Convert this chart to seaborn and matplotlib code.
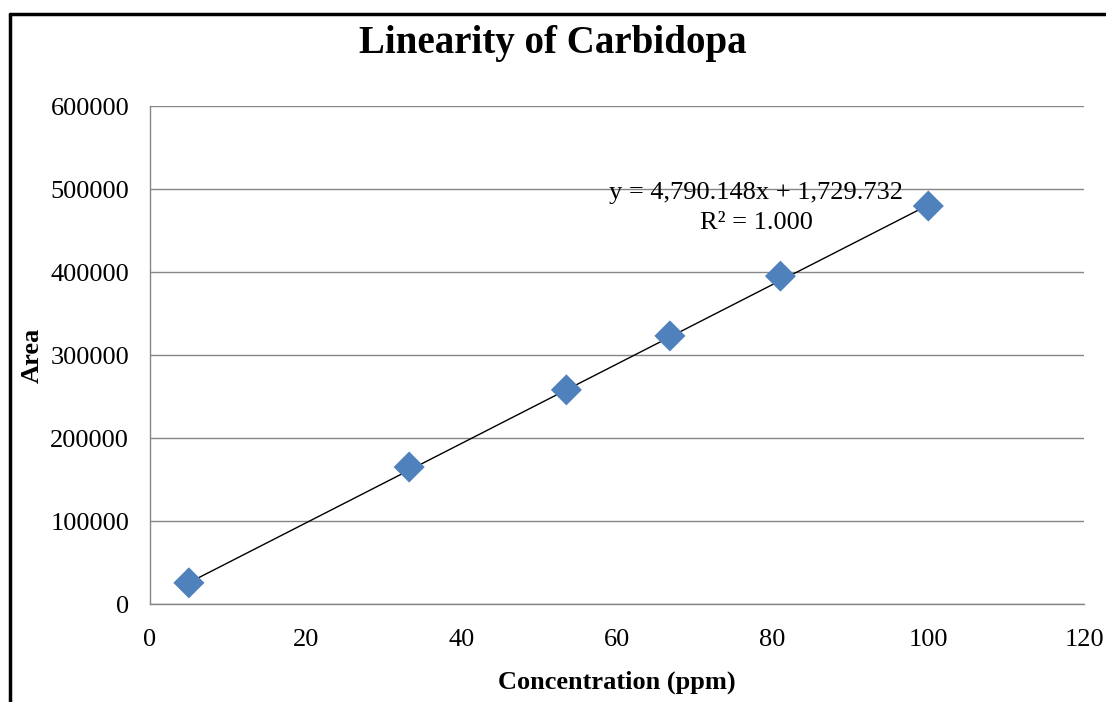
import numpy as np
import pandas as pd
import matplotlib
matplotlib.use("Agg")
import matplotlib.pyplot as plt
import seaborn as sns
from matplotlib.lines import Line2D

conc = [5.0, 33.3, 53.5, 66.8, 81.0, 100.0]
area = [25500, 165000, 258000, 323000, 395000, 479500]
slope = 4790.148
intercept = 1729.732
r2 = 1.000
xticks = [0, 20, 40, 60, 80, 100, 120]
yticks = [0, 100000, 200000, 300000, 400000, 500000, 600000]

sns.set_style("white")
plt.rcParams['font.family'] = ['Liberation Serif', 'DejaVu Serif']
plt.rcParams['text.color'] = 'black'
plt.rcParams['axes.labelcolor'] = 'black'

df = pd.DataFrame({"Concentration (ppm)": conc, "Area": area})

fig = plt.figure(figsize=(11.06, 7.02), dpi=100)
ax = fig.add_axes([0.1356, 0.1396, 0.9801 - 0.1356, 0.849 - 0.1396])

xs = np.array([min(conc), max(conc)])
line_df = pd.DataFrame({"x": xs, "y": slope * xs + intercept})
sns.lineplot(data=line_df, x="x", y="y", ax=ax, color="black", linewidth=1.0, zorder=2)
sns.scatterplot(data=df, x="Concentration (ppm)", y="Area", ax=ax, marker="D",
                s=250, color="#4F81BD", edgecolor="none", zorder=3)

ax.set_xlim(0, 120)
ax.set_ylim(0, 600000)
ax.set_xticks(xticks)
ax.set_yticks(yticks)
ax.set_xticklabels([str(t) for t in xticks])
ax.set_yticklabels([str(t) for t in yticks])
ax.tick_params(axis="both", labelsize=19, labelcolor="black", length=8, width=1,
               direction="out", color="#868686")
ax.tick_params(axis="y", pad=7)
ax.tick_params(axis="x", pad=10)
ax.yaxis.grid(True, color="#868686", linewidth=1)
ax.xaxis.grid(False)
for s in ["top", "right"]:
    ax.spines[s].set_visible(False)
for s in ["left", "bottom"]:
    ax.spines[s].set_color("#868686")
    ax.spines[s].set_linewidth(1)

ax.set_xlabel("Concentration (ppm)", fontsize=19, fontweight="bold", labelpad=14)
ax.set_ylabel("Area", fontsize=19, fontweight="bold", labelpad=5)
fig.text(0.4995, 1 - 43/702, "Linearity of Carbidopa", fontsize=28, fontweight="bold",
         ha="center", va="center", color="black")

ax.text(77.9, 477000, f"y = {slope:,.3f}x + {intercept:,.3f}\nR² = {r2:.3f}",
        ha="center", va="center", fontsize=19, linespacing=1.45)

fig.add_artist(Line2D([10/1106, 1.0], [1 - 14/702, 1 - 14/702], transform=fig.transFigure,
                      color="black", linewidth=2.5))
fig.add_artist(Line2D([10/1106, 10/1106], [0, 1 - 14/702], transform=fig.transFigure,
                      color="black", linewidth=2.5))

fig.savefig("out.png", dpi=100, facecolor="white")
